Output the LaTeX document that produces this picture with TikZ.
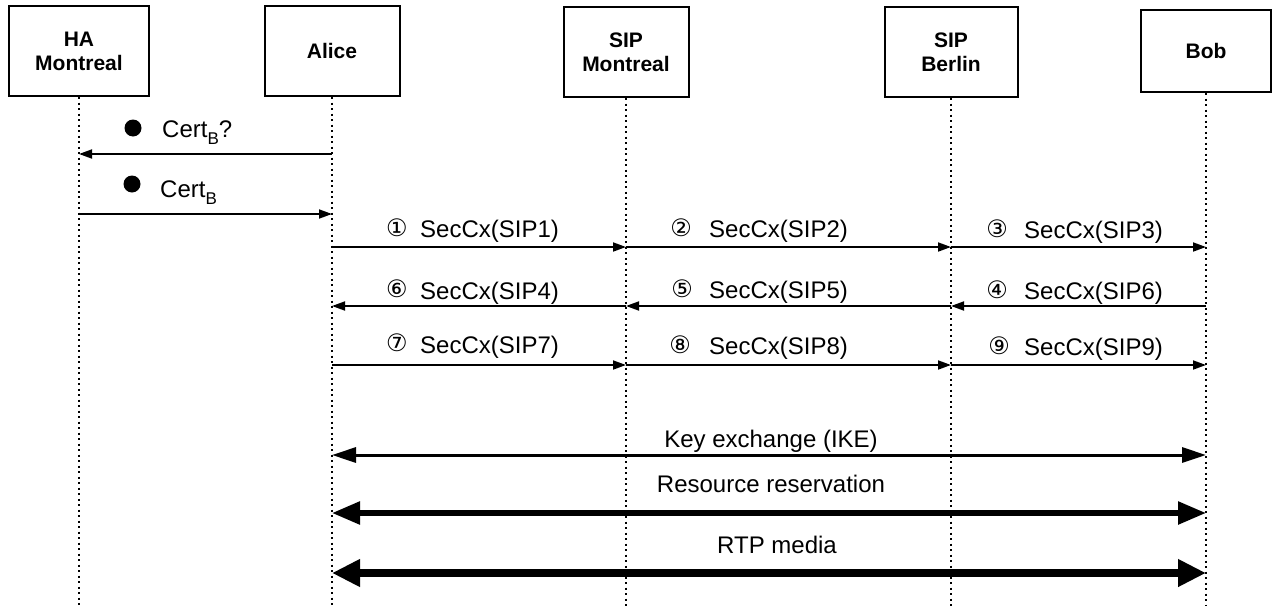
\documentclass[tikz,border=0pt]{standalone}
\usepackage{fontspec}
\setmainfont{Liberation Sans}
\newfontfamily\djv{DejaVu Sans}
\usetikzlibrary{arrows.meta}
\tikzset{
  actor/.style={draw, line width=2pt, fill=white, minimum height=90pt, align=center,
    font=\bfseries\fontsize{21}{24}\selectfont, inner sep=0pt},
  life/.style={line width=2pt, dash pattern=on 2pt off 3.5pt},
  msg/.style={line width=1.8pt, -{Triangle[length=13pt,width=9pt]}},
  lbl/.style={anchor=base west, inner sep=0pt, font=\fontsize{24}{28}\selectfont},
  num/.style={inner sep=0pt, font=\djv\fontsize{24}{24}\selectfont},
  dot/.style={circle, fill=black, inner sep=0pt, minimum size=17pt},
  big/.style={anchor=base, inner sep=0pt, font=\fontsize{24}{28}\selectfont},
  thk1/.style={line width=3pt, {Triangle[length=24pt,width=15pt]}-{Triangle[length=24pt,width=15pt]}},
  thk2/.style={line width=5.5pt, {Triangle[length=28pt,width=22pt]}-{Triangle[length=28pt,width=22pt]}},
  thk3/.style={line width=8pt, {Triangle[length=28pt,width=26pt]}-{Triangle[length=28pt,width=26pt]}},
}
\newcommand{\subB}{\raisebox{-7pt}{\fontsize{17}{17}\selectfont B}}
\begin{document}
\begin{tikzpicture}[x=1pt,y=-1pt]
\useasboundingbox (0,0) rectangle (1273,605);
% actors
\node[actor, minimum width=140pt] (ha) at (79,51) {HA\\Montreal};
\node[actor, minimum width=135pt] (alice) at (332,51) {Alice};
\node[actor, minimum width=125pt] (sipm) at (626,52) {SIP\\Montreal};
\node[actor, minimum width=133pt] (sipb) at (951,52) {SIP\\Berlin};
\node[actor, minimum width=130pt, minimum height=82pt] (bob) at (1206,51) {Bob};
% lifeline ends
\coordinate (bot) at (0,606);
\foreach \a in {ha,alice,sipm,sipb,bob}
  \draw[life] (\a.south) -- (\a.south |- bot);
% row coordinates
\coordinate (c1) at (0,154);
\coordinate (c2) at (0,214);
\coordinate (r1) at (0,247);
\coordinate (r2) at (0,306);
\coordinate (r3) at (0,365);
\coordinate (k1) at (0,455);
\coordinate (k2) at (0,513);
\coordinate (k3) at (0,573);
% Cert messages
\draw[msg] (alice |- c1) -- (ha |- c1);
\node[dot] (d1) at (133,128) {};
\node[lbl] (tc1) at (162,137) {Cert\subB?};
\draw[msg] (ha |- c2) -- (alice |- c2);
\node[dot] (d2) at (132,184) {};
\node[lbl] (tc2) at (160,197) {Cert\subB};
% SIP messages
\draw[msg] (alice |- r1) -- (sipm |- r1);
\draw[msg] (sipm |- r1) -- (sipb |- r1);
\draw[msg] (sipb |- r1) -- (bob |- r1);
\draw[msg] (bob |- r2) -- (sipb |- r2);
\draw[msg] (sipb |- r2) -- (sipm |- r2);
\draw[msg] (sipm |- r2) -- (alice |- r2);
\draw[msg] (alice |- r3) -- (sipm |- r3);
\draw[msg] (sipm |- r3) -- (sipb |- r3);
\draw[msg] (sipb |- r3) -- (bob |- r3);
% labels row 1
\node[num] (n1) at (397,228) {①};
\node[lbl] (t1) at (420,237) {SecCx(SIP1)};
\node[num] (n2) at (681,228) {②};
\node[lbl] (t2) at (709,237) {SecCx(SIP2)};
\node[num] (n3) at (997,229) {③};
\node[lbl] (t3) at (1024,238) {SecCx(SIP3)};
% row 2
\node[num] (n6) at (397,289) {⑥};
\node[lbl] (t4) at (420,299) {SecCx(SIP4)};
\node[num] (n5) at (682,289) {⑤};
\node[lbl] (t5) at (709,298) {SecCx(SIP5)};
\node[num] (n4) at (997,290) {④};
\node[lbl] (t6) at (1024,299) {SecCx(SIP6)};
% row 3
\node[num] (n7) at (397,343) {⑦};
\node[lbl] (t7) at (420,353) {SecCx(SIP7)};
\node[num] (n8) at (680,345) {⑧};
\node[lbl] (t8) at (709,354) {SecCx(SIP8)};
\node[num] (n9) at (999,346) {⑨};
\node[lbl] (t9) at (1024,355) {SecCx(SIP9)};
% end-to-end
\draw[thk1] (alice |- k1) -- (bob |- k1);
\node[big] (kx) at (771,447) {Key exchange (IKE)};
\draw[thk2] (alice |- k2) -- (bob |- k2);
\node[big] (rr) at (771,492) {Resource reservation};
\draw[thk3] (alice |- k3) -- (bob |- k3);
\node[big] (rtp) at (777,553) {RTP media};
\end{tikzpicture}
\end{document}
